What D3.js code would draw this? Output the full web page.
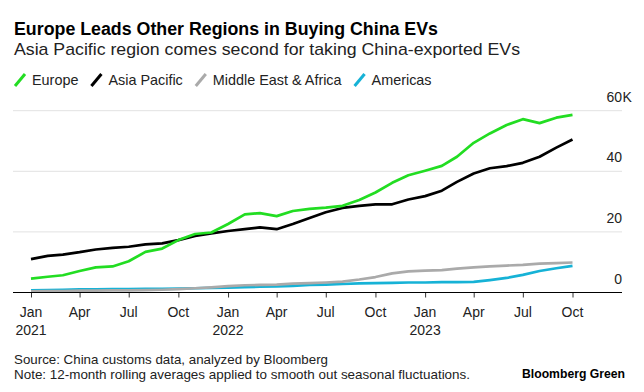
<!DOCTYPE html>
<html><head><meta charset="utf-8">
<script src="https://cdn.jsdelivr.net/npm/d3@7"></script>
<style>
body{margin:0;background:#fff;}
svg{display:block;font-family:"Liberation Sans",Arial,Helvetica,sans-serif;}
</style>
</head><body>
<svg id="c" width="644" height="392"></svg>
<script>
// ---- data ----
const months = ["2021-01","2021-02","2021-03","2021-04","2021-05","2021-06","2021-07","2021-08","2021-09","2021-10","2021-11","2021-12",
  "2022-01","2022-02","2022-03","2022-04","2022-05","2022-06","2022-07","2022-08","2022-09","2022-10","2022-11","2022-12",
  "2023-01","2023-02","2023-03","2023-04","2023-05","2023-06","2023-07","2023-08","2023-09","2023-10"];
const europe = [4600,5200,5700,7100,8300,8600,10300,13400,14500,17300,19300,19800,
  22600,25800,26200,25200,26900,27600,28000,28600,30500,33000,36200,38700,
  40200,41800,44800,49400,52500,55300,57200,55900,57700,58600];
const asiaPacific = [11000,12100,12500,13300,14200,14700,15100,15900,16200,17300,18700,19500,
  20300,20900,21500,20900,22600,24600,26500,27900,28600,29100,29100,30700,
  31800,33600,36500,39300,41000,41700,42800,44800,47800,50500];
const middleEastAfrica = [400,500,500,600,600,700,700,800,900,1100,1400,1700,
  2100,2400,2500,2600,2900,3100,3300,3600,4300,5100,6300,7000,
  7200,7400,7900,8300,8600,8900,9100,9500,9700,9900];
const americas = [700,800,900,1000,1000,1100,1100,1200,1200,1300,1400,1500,
  1600,1800,1900,2000,2200,2500,2600,2800,3000,3100,3200,3300,
  3300,3400,3400,3500,4100,4800,5800,7100,8000,8800];
const seriesNames = ["Europe","Asia Pacific","Middle East & Africa","Americas"];
const seriesColors = ["#22dd22","#000000","#aaaaaa","#16b2d6"];
const xTicks = ["2021-01","2021-04","2021-07","2021-10","2022-01","2022-04","2022-07","2022-10","2023-01","2023-04","2023-07","2023-10"];
const yTicks = [0,20000,40000,60000];
const title = "Europe Leads Other Regions in Buying China EVs";
const subtitle = "Asia Pacific region comes second for taking China-exported EVs";
const source = "Source: China customs data, analyzed by Bloomberg";
const note = "Note: 12-month rolling averages applied to smooth out seasonal fluctuations.";
const brand = "Bloomberg Green";

// ---- chart ----
const svg = d3.select("#c");
const parse = d3.timeParse("%Y-%m");
const dates = months.map(parse);
const x = d3.scaleTime().domain([parse("2021-01"), parse("2023-10")]).range([31, 572.5]);
const y = d3.scaleLinear().domain([0, 60000]).range([292.5, 110.7]);
const left = 13, right = 622;

// titles
function fitText(sel, w){ const n = sel.node(); const l = n.getComputedTextLength(); if (Math.abs(l-w) > 2) sel.attr("textLength", w).attr("lengthAdjust","spacingAndGlyphs"); return sel; }
fitText(svg.append("text").attr("x",14).attr("y",34.5).attr("font-size",18).attr("font-weight","bold").attr("fill","#000").text(title), 424);
fitText(svg.append("text").attr("x",14).attr("y",55).attr("font-size",17).attr("fill","#222").text(subtitle), 506);

// legend
let lx = 14;
seriesNames.forEach((name,i)=>{
  svg.append("line").attr("x1",lx+1).attr("y1",86).attr("x2",lx+11).attr("y2",74)
    .attr("stroke",seriesColors[i]).attr("stroke-width",3).attr("stroke-linecap","butt");
  const t = svg.append("text").attr("x",lx+18).attr("y",85).attr("font-size",14.4).attr("fill","#222").text(name);
  lx = lx + 18 + t.node().getComputedTextLength() + 12;
});

// gridlines
svg.append("g").selectAll("line").data(yTicks.filter(d=>d>0)).join("line")
  .attr("x1",left).attr("x2",right).attr("y1",d=>y(d)).attr("y2",d=>y(d))
  .attr("stroke","#e2e2e2").attr("stroke-width",1);

// y labels
const yl = svg.append("g").attr("font-size",14).attr("fill","#222");
yl.selectAll("text").data(yTicks).join("text")
  .attr("x",right).attr("y",d=>y(d)-9).attr("text-anchor","end").attr("fill","#222")
  .text(d=>d/1000);
yl.append("text").attr("x",right+0.5).attr("y",y(yTicks[yTicks.length-1])-9).attr("fill","#222").text("K");

// lines
const line = d3.line().x((d,i)=>x(dates[i])).y(d=>y(d));
const allSeries = [europe, asiaPacific, middleEastAfrica, americas];
[3,2,1,0].forEach(i=>{
  svg.append("path").datum(allSeries[i]).attr("d",line).attr("fill","none")
    .attr("stroke",seriesColors[i]).attr("stroke-width",2.7)
    .attr("stroke-linejoin","round").attr("stroke-linecap","butt");
});

// x axis
const tickDates = xTicks.map(parse);
const xa = svg.append("g").attr("transform",`translate(0,${y(0)})`)
  .call(d3.axisBottom(x).tickValues(tickDates).tickSize(5).tickSizeOuter(0).tickFormat(""));
xa.select(".domain").remove();
xa.selectAll(".tick line").attr("stroke","#333");
svg.append("line").attr("x1",left).attr("x2",right).attr("y1",y(0)).attr("y2",y(0)).attr("stroke","#000").attr("stroke-width",1);
const fm = d3.timeFormat("%b"), fy = d3.timeFormat("%Y");
const xl = svg.append("g").attr("font-size",14).attr("fill","#222").attr("text-anchor","middle");
xl.selectAll("text.m").data(tickDates).join("text").attr("class","m")
  .attr("x",d=>x(d)).attr("y",317).text(d=>fm(d));
xl.selectAll("text.yr").data(tickDates.filter(d=>d.getMonth()===0)).join("text").attr("class","yr")
  .attr("x",d=>x(d)).attr("y",335).text(d=>fy(d));

// footer
fitText(svg.append("text").attr("x",14).attr("y",364).attr("font-size",13).attr("fill","#222").text(source), 314);
fitText(svg.append("text").attr("x",14).attr("y",379.3).attr("font-size",13).attr("fill","#222").text(note), 456);
fitText(svg.append("text").attr("x",522).attr("y",377.5).attr("font-size",12.5).attr("font-weight","bold").attr("fill","#000").text(brand), 103);
</script>
</body></html>
